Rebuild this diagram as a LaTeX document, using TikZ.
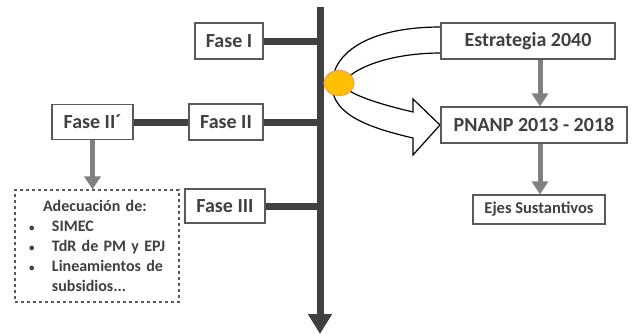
\documentclass[tikz,border=0pt]{standalone}
\usepackage{fontspec}
\setmainfont{Carlito}
\usepackage{tikz}
\usetikzlibrary{arrows.meta,positioning,shapes}
\definecolor{txtgray}{RGB}{64,64,64}
\definecolor{bargray}{RGB}{64,64,64}
\definecolor{arrgray}{RGB}{128,128,128}
\definecolor{boxline}{RGB}{89,89,89}
\definecolor{dotfill}{RGB}{255,192,0}
\definecolor{dotline}{RGB}{244,160,80}
\newcommand{\blt}{\makebox[30pt][l]{\hspace*{7pt}{\fontsize{11}{11}\selectfont•}}}
\tikzset{
  every picture/.style = {
    x = 1pt,
    y = -1pt,
  }
  ,
  fase/.style = {
    rectangle,
    draw = boxline,
    line width = 1.2pt,
    fill = white,
    text = txtgray,
    font = \fontsize{20}{24}\selectfont\bfseries,
    inner sep = 0pt
  }
  , % horizontal bars to the axis
  bar/.style = {
    draw = bargray,
    line width = 7pt
  }
  , % gray arrows between boxes
  down/.style = {
    draw = arrgray,
    line width = 5pt,
    -{Triangle[width=16pt,length=13pt]}
  }
}
\begin{document}
\begin{tikzpicture}
  \useasboundingbox (0,0) rectangle (638,335);
  % time axis
  \coordinate (top) at (320,7);
  \coordinate (bottom) at (320,334);
  \draw[bargray, line width=7pt, -{Triangle[width=23pt,length=20pt]}] (top) -- (bottom);
  % curved block arrow
  \draw[black, line width=1.2pt, fill=white, line join=miter]
    (441,27) .. controls (365,27) and (332,55) .. (332,85)
    .. controls (332,115) and (370,128) .. (413,138)
    -- (413,155) -- (440,125) -- (413,99) -- (413,112)
    .. controls (375,103) and (348,94) .. (342,84)
    .. controls (352,68) and (390,53) .. (441,53) -- cycle;
  \node[ellipse, fill=dotfill, draw=dotline, line width=1.2pt,
        minimum width=30pt, minimum height=25pt, inner sep=0pt] (dot) at (339,83) {};
  % phases
  \node[fase, minimum width=68pt, minimum height=36pt] (f1) at (229,41) {Fase I};
  \node[fase, minimum width=74pt, minimum height=36pt] (f2) at (226,122) {Fase II};
  \node[fase, minimum width=81pt, minimum height=35pt] (f2p) at (92.5,122) {Fase II´};
  \node[fase, minimum width=80pt, minimum height=34pt] (f3) at (225,206) {Fase III};
  \node[fase, dashed, minimum width=164pt, minimum height=112pt,
        text width=150pt, inner xsep=7pt,
        font=\fontsize{16}{20}\selectfont\bfseries, align=left] (adec) at (97,246)
    {\hspace*{21pt}Adecuación de:\\
     \blt SIMEC\\
     \blt TdR de PM y EPJ\\
     \blt Lineamientos de\\
     \hspace*{30pt}subsidios...};
  \draw[bar] (f1.east) -- (f1.east -| top);
  \draw[bar] (f2.east) -- (f2.east -| top);
  \draw[bar] (f3.east) -- (f3.east -| top);
  \draw[bar] (f2p.east) -- (f2.west);
  \draw[down] (f2p.south) -- (f2p.south |- adec.north);
  % plans
  \node[fase, minimum width=174pt, minimum height=36pt] (est) at (528,41) {Estrategia 2040};
  \node[fase, minimum width=186pt, minimum height=36pt] (pnanp) at (534,125) {PNANP 2013 - 2018};
  \node[fase, minimum width=132pt, minimum height=29pt,
        font=\fontsize{16.5}{20}\selectfont\bfseries] (ejes) at (539,209.5) {Ejes Sustantivos};
  \draw[down] (est.south -| 540,0) -- (pnanp.north -| 540,0);
  \draw[down] (pnanp.south -| 540,0) -- (ejes.north -| 540,0);
\end{tikzpicture}
\end{document}
